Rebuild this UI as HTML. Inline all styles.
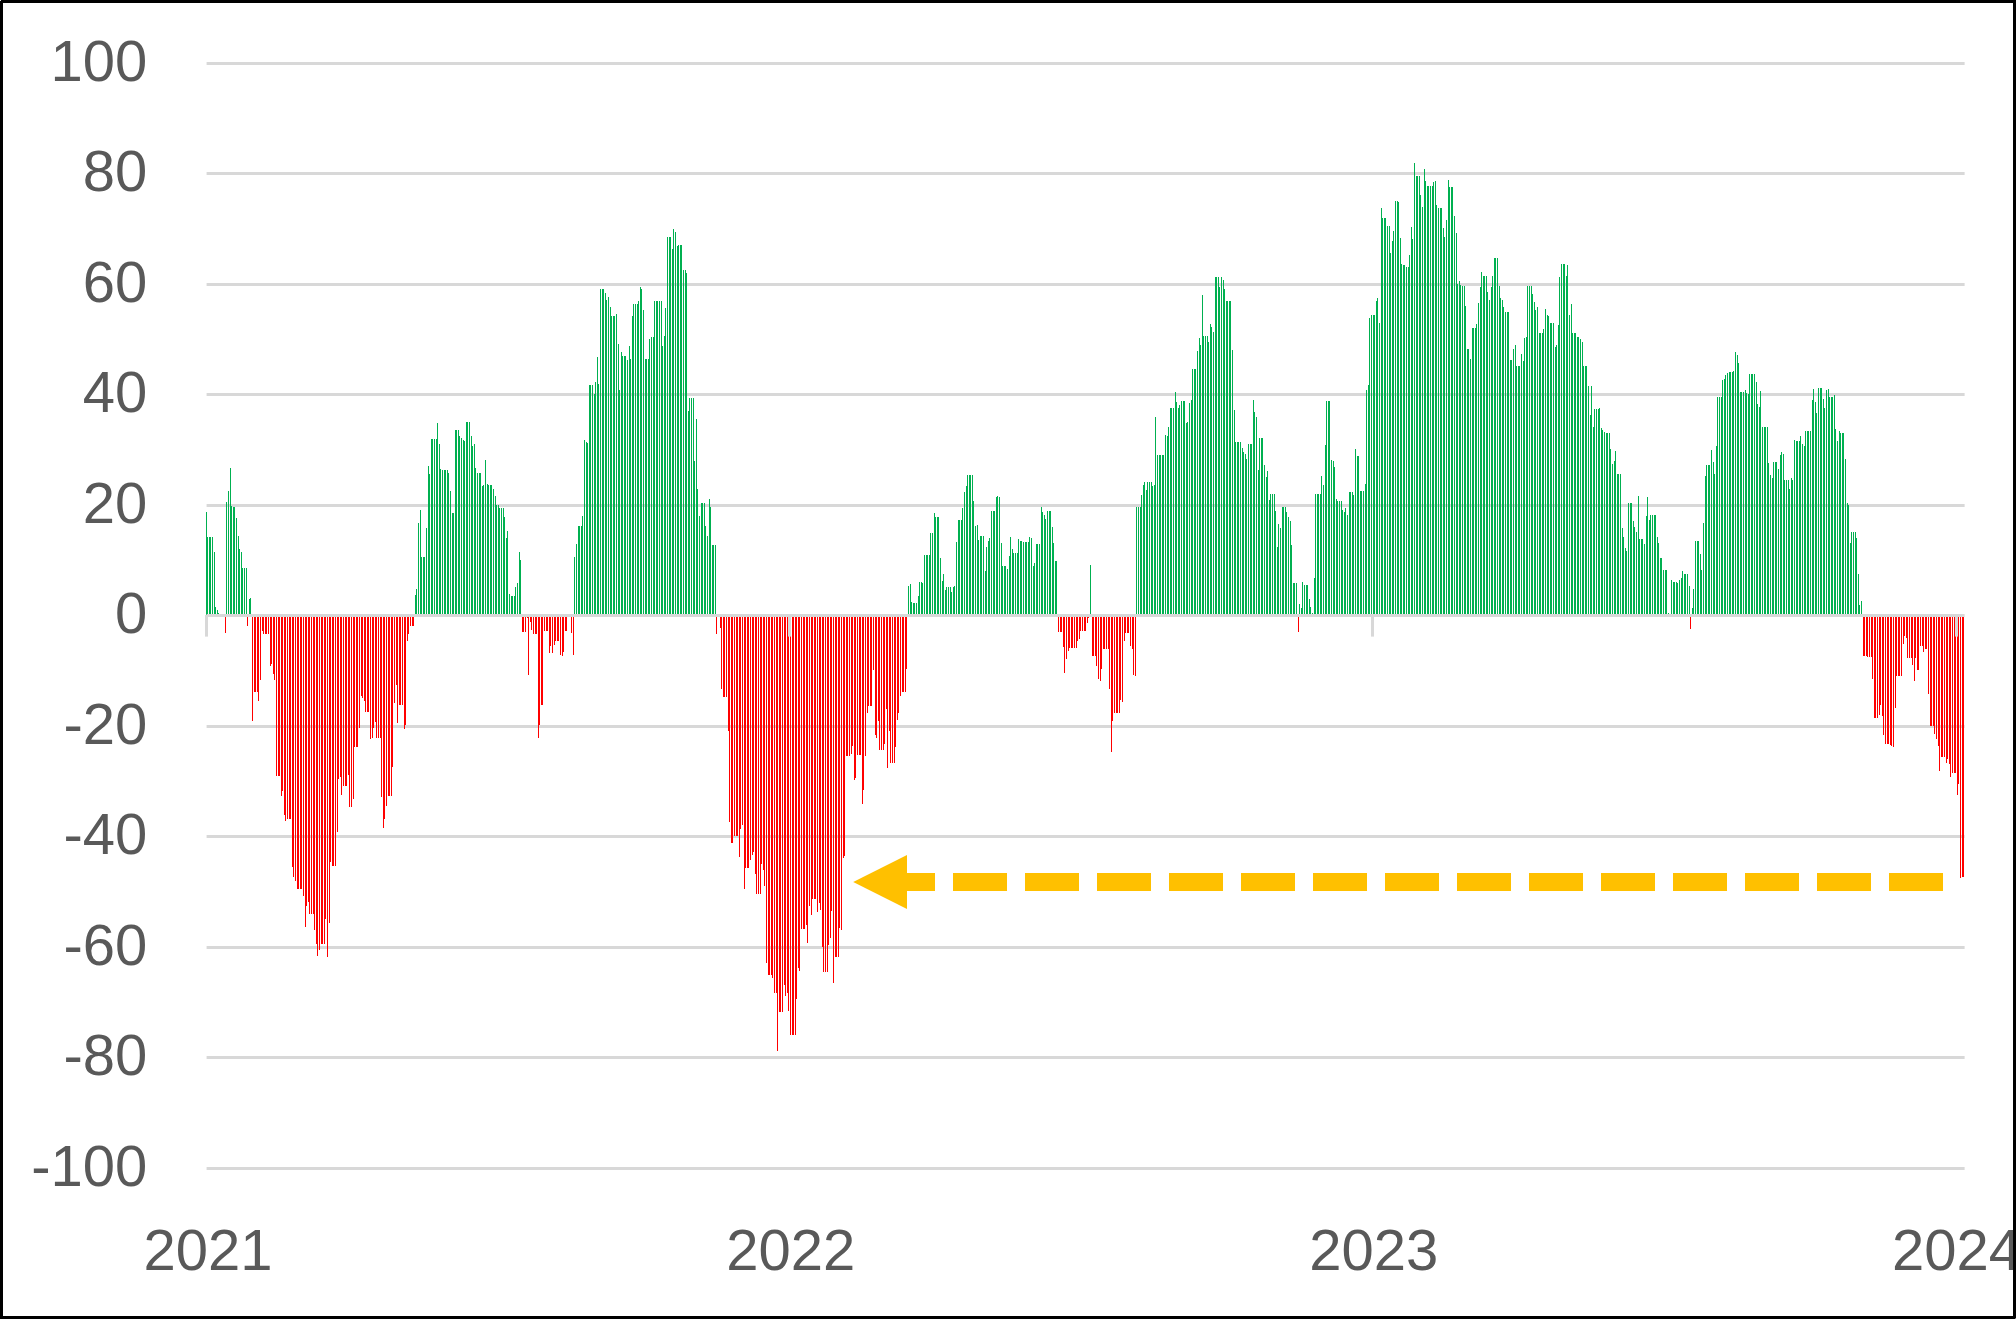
<!DOCTYPE html>
<html><head><meta charset="utf-8"><title>Chart</title>
<style>
html,body{margin:0;padding:0;background:#fff;}
body{width:2016px;height:1319px;overflow:hidden;position:relative;}
#frame{position:absolute;left:0;top:0;width:2016px;height:1319px;box-sizing:border-box;border:3px solid #000;z-index:5;pointer-events:none;}
svg{position:absolute;left:0;top:0;}
svg text{font-family:"Liberation Sans",sans-serif;font-size:58px;fill:#595959;}
</style></head><body>
<svg width="2016" height="1319" viewBox="0 0 2016 1319">
<g><rect x="206.6" y="62" width="1758" height="3" fill="#d8d8d8"/><rect x="206.6" y="172" width="1758" height="3" fill="#d8d8d8"/><rect x="206.6" y="283" width="1758" height="3" fill="#d8d8d8"/><rect x="206.6" y="393" width="1758" height="3" fill="#d8d8d8"/><rect x="206.6" y="504" width="1758" height="3" fill="#d8d8d8"/><rect x="206.6" y="725" width="1758" height="3" fill="#d8d8d8"/><rect x="206.6" y="835" width="1758" height="3" fill="#d8d8d8"/><rect x="206.6" y="946" width="1758" height="3" fill="#d8d8d8"/><rect x="206.6" y="1056" width="1758" height="3" fill="#d8d8d8"/><rect x="206.6" y="1167" width="1758" height="3" fill="#d8d8d8"/></g>
<g shape-rendering="crispEdges"><path fill="#00b050" d="M206 512h1V615h-1zM207 537h1V615h-1zM209 537h1V615h-1zM210 537h1V615h-1zM212 537h1V615h-1zM214 552h1V615h-1zM215 607h1V615h-1zM217 610h1V615h-1zM218 613h1V615h-1zM226 501.5h1V615h-1zM228 490.5h1V615h-1zM230 468h1V615h-1zM231 506h1V615h-1zM233 506.5h1V615h-1zM234 506.5h1V615h-1zM236 518h1V615h-1zM238 536h1V615h-1zM239 549h1V615h-1zM241 552h1V615h-1zM242 568h1V615h-1zM244 568h1V615h-1zM246 568h1V615h-1zM249 599h1V615h-1zM250 598h1V615h-1zM415 595h1V615h-1zM416 589h1V615h-1zM418 522.5h1V615h-1zM420 510h1V615h-1zM421 557h1V615h-1zM423 557h1V615h-1zM424 557h1V615h-1zM426 528h1V615h-1zM428 466h1V615h-1zM429 474h1V615h-1zM431 439h1V615h-1zM432 439h1V615h-1zM434 439h1V615h-1zM436 439h1V615h-1zM437 423h1V615h-1zM439 444h1V615h-1zM440 469h1V615h-1zM442 470h1V615h-1zM444 470h1V615h-1zM445 470h1V615h-1zM447 470h1V615h-1zM448 473h1V615h-1zM450 491h1V615h-1zM452 513h1V615h-1zM453 513h1V615h-1zM455 430h1V615h-1zM456 430h1V615h-1zM458 430h1V615h-1zM459 436h1V615h-1zM461 438h1V615h-1zM463 440h1V615h-1zM464 441h1V615h-1zM466 422h1V615h-1zM467 422h1V615h-1zM469 422h1V615h-1zM471 436h1V615h-1zM472 446h1V615h-1zM474 444h1V615h-1zM475 468h1V615h-1zM477 473h1V615h-1zM479 473h1V615h-1zM480 473h1V615h-1zM482 486h1V615h-1zM483 485h1V615h-1zM485 460h1V615h-1zM487 484h1V615h-1zM488 485h1V615h-1zM490 485h1V615h-1zM491 485h1V615h-1zM493 489h1V615h-1zM495 496h1V615h-1zM496 505h1V615h-1zM498 505h1V615h-1zM499 508h1V615h-1zM501 508h1V615h-1zM503 508h1V615h-1zM504 517h1V615h-1zM506 538h1V615h-1zM507 531h1V615h-1zM509 594h1V615h-1zM511 596h1V615h-1zM512 596h1V615h-1zM514 596h1V615h-1zM515 587h1V615h-1zM517 583h1V615h-1zM519 552h1V615h-1zM520 560h1V615h-1zM574 557h1V615h-1zM576 544h1V615h-1zM578 526h1V615h-1zM579 526h1V615h-1zM581 526h1V615h-1zM582 516h1V615h-1zM584 440h1V615h-1zM586 442h1V615h-1zM587 443h1V615h-1zM589 385h1V615h-1zM590 385h1V615h-1zM592 385h1V615h-1zM594 394h1V615h-1zM595 382h1V615h-1zM597 357h1V615h-1zM598 384h1V615h-1zM600 289h1V615h-1zM602 289h1V615h-1zM603 289h1V615h-1zM605 293h1V615h-1zM606 300h1V615h-1zM608 297h1V615h-1zM610 307h1V615h-1zM611 316h1V615h-1zM613 316h1V615h-1zM614 316h1V615h-1zM616 314h1V615h-1zM618 344h1V615h-1zM619 390h1V615h-1zM621 352h1V615h-1zM622 356h1V615h-1zM624 356h1V615h-1zM625 356h1V615h-1zM627 360h1V615h-1zM629 346h1V615h-1zM630 359h1V615h-1zM632 316h1V615h-1zM633 304h1V615h-1zM635 304h1V615h-1zM637 304h1V615h-1zM638 301h1V615h-1zM640 287h1V615h-1zM641 289h1V615h-1zM643 310h1V615h-1zM645 359h1V615h-1zM646 359h1V615h-1zM648 359h1V615h-1zM649 339h1V615h-1zM651 337h1V615h-1zM653 337h1V615h-1zM654 301h1V615h-1zM656 301h1V615h-1zM657 301h1V615h-1zM659 301h1V615h-1zM661 301h1V615h-1zM662 346h1V615h-1zM664 336h1V615h-1zM665 308h1V615h-1zM667 237h1V615h-1zM669 237h1V615h-1zM670 237h1V615h-1zM672 249h1V615h-1zM673 229h1V615h-1zM675 232h1V615h-1zM677 246h1V615h-1zM678 245h1V615h-1zM680 245h1V615h-1zM681 245h1V615h-1zM683 270h1V615h-1zM685 270h1V615h-1zM686 273h1V615h-1zM688 411h1V615h-1zM689 398h1V615h-1zM691 398h1V615h-1zM693 398h1V615h-1zM694 461h1V615h-1zM696 419h1V615h-1zM697 489h1V615h-1zM699 516h1V615h-1zM701 503h1V615h-1zM702 503h1V615h-1zM704 503h1V615h-1zM705 526h1V615h-1zM707 536h1V615h-1zM709 499h1V615h-1zM710 507h1V615h-1zM712 545h1V615h-1zM713 545h1V615h-1zM715 545h1V615h-1zM908 586h1V615h-1zM910 584h1V615h-1zM911 602h1V615h-1zM913 603h1V615h-1zM914 603h1V615h-1zM916 603h1V615h-1zM918 596h1V615h-1zM919 582h1V615h-1zM921 582h1V615h-1zM922 583h1V615h-1zM924 555h1V615h-1zM926 555h1V615h-1zM927 555h1V615h-1zM929 555h1V615h-1zM930 533h1V615h-1zM932 533h1V615h-1zM934 513h1V615h-1zM935 517h1V615h-1zM937 517h1V615h-1zM938 517h1V615h-1zM940 558h1V615h-1zM942 581h1V615h-1zM943 574h1V615h-1zM945 590h1V615h-1zM946 587h1V615h-1zM948 587h1V615h-1zM950 587h1V615h-1zM951 592h1V615h-1zM953 587h1V615h-1zM954 586h1V615h-1zM956 542h1V615h-1zM958 520h1V615h-1zM959 520h1V615h-1zM961 520h1V615h-1zM962 508h1V615h-1zM964 492h1V615h-1zM966 486h1V615h-1zM967 475h1V615h-1zM969 475h1V615h-1zM970 475h1V615h-1zM972 475h1V615h-1zM973 501h1V615h-1zM975 526h1V615h-1zM977 525h1V615h-1zM978 540h1V615h-1zM980 536h1V615h-1zM981 536h1V615h-1zM983 536h1V615h-1zM985 571h1V615h-1zM986 547h1V615h-1zM988 541h1V615h-1zM989 538h1V615h-1zM991 511h1V615h-1zM993 511h1V615h-1zM994 511h1V615h-1zM996 497h1V615h-1zM997 496h1V615h-1zM999 497h1V615h-1zM1001 543h1V615h-1zM1002 566h1V615h-1zM1004 566h1V615h-1zM1005 566h1V615h-1zM1007 569h1V615h-1zM1009 556h1V615h-1zM1010 537h1V615h-1zM1012 549h1V615h-1zM1013 553h1V615h-1zM1015 553h1V615h-1zM1017 553h1V615h-1zM1018 539h1V615h-1zM1020 541h1V615h-1zM1021 541h1V615h-1zM1023 542h1V615h-1zM1025 542h1V615h-1zM1026 542h1V615h-1zM1028 542h1V615h-1zM1029 537h1V615h-1zM1031 538h1V615h-1zM1033 566h1V615h-1zM1034 563h1V615h-1zM1036 544h1V615h-1zM1037 544h1V615h-1zM1039 544h1V615h-1zM1041 507h1V615h-1zM1042 512h1V615h-1zM1044 515h1V615h-1zM1045 519h1V615h-1zM1047 511h1V615h-1zM1049 511h1V615h-1zM1050 511h1V615h-1zM1052 527h1V615h-1zM1053 543h1V615h-1zM1055 561h1V615h-1zM1056 561h1V615h-1zM1090 565h1V615h-1zM1136 507h1V615h-1zM1138 507h1V615h-1zM1140 507h1V615h-1zM1141 495h1V615h-1zM1143 485h1V615h-1zM1144 482h1V615h-1zM1146 490h1V615h-1zM1147 482h1V615h-1zM1149 482h1V615h-1zM1151 482h1V615h-1zM1152 486h1V615h-1zM1154 485h1V615h-1zM1155 417h1V615h-1zM1157 455h1V615h-1zM1159 455h1V615h-1zM1160 455h1V615h-1zM1162 455h1V615h-1zM1163 455h1V615h-1zM1165 435h1V615h-1zM1167 436h1V615h-1zM1168 427h1V615h-1zM1170 408h1V615h-1zM1171 408h1V615h-1zM1173 408h1V615h-1zM1175 392h1V615h-1zM1176 402h1V615h-1zM1178 408h1V615h-1zM1179 405h1V615h-1zM1181 401h1V615h-1zM1183 401h1V615h-1zM1184 401h1V615h-1zM1186 423h1V615h-1zM1187 422h1V615h-1zM1189 403h1V615h-1zM1191 400h1V615h-1zM1192 369h1V615h-1zM1194 369h1V615h-1zM1195 369h1V615h-1zM1197 351h1V615h-1zM1199 338h1V615h-1zM1200 345h1V615h-1zM1202 295h1V615h-1zM1203 336h1V615h-1zM1205 336h1V615h-1zM1207 336h1V615h-1zM1208 342h1V615h-1zM1210 324h1V615h-1zM1211 327h1V615h-1zM1213 332h1V615h-1zM1215 277h1V615h-1zM1216 277h1V615h-1zM1218 277h1V615h-1zM1219 287h1V615h-1zM1221 277h1V615h-1zM1223 280h1V615h-1zM1224 289h1V615h-1zM1226 301h1V615h-1zM1227 301h1V615h-1zM1229 301h1V615h-1zM1230 301h1V615h-1zM1232 350h1V615h-1zM1234 410h1V615h-1zM1235 442h1V615h-1zM1237 442h1V615h-1zM1238 442h1V615h-1zM1240 442h1V615h-1zM1242 448h1V615h-1zM1243 452h1V615h-1zM1245 454h1V615h-1zM1246 459h1V615h-1zM1248 444h1V615h-1zM1250 444h1V615h-1zM1251 444h1V615h-1zM1253 400h1V615h-1zM1254 412h1V615h-1zM1256 417h1V615h-1zM1258 470h1V615h-1zM1259 438h1V615h-1zM1261 438h1V615h-1zM1262 438h1V615h-1zM1264 465h1V615h-1zM1266 477h1V615h-1zM1267 471h1V615h-1zM1269 500h1V615h-1zM1270 494h1V615h-1zM1272 494h1V615h-1zM1274 494h1V615h-1zM1275 511h1V615h-1zM1277 547h1V615h-1zM1278 524h1V615h-1zM1280 528h1V615h-1zM1282 507h1V615h-1zM1283 507h1V615h-1zM1285 507h1V615h-1zM1286 512h1V615h-1zM1288 517h1V615h-1zM1290 521h1V615h-1zM1291 545h1V615h-1zM1293 583h1V615h-1zM1294 583h1V615h-1zM1296 583h1V615h-1zM1299 604h1V615h-1zM1301 608h1V615h-1zM1302 582h1V615h-1zM1304 585h1V615h-1zM1306 585h1V615h-1zM1307 585h1V615h-1zM1309 599h1V615h-1zM1310 607h1V615h-1zM1312 613h1V615h-1zM1314 578h1V615h-1zM1315 494h1V615h-1zM1317 494h1V615h-1zM1318 494h1V615h-1zM1320 494h1V615h-1zM1321 476h1V615h-1zM1323 485h1V615h-1zM1325 445h1V615h-1zM1326 401h1V615h-1zM1328 401h1V615h-1zM1329 401h1V615h-1zM1331 460h1V615h-1zM1333 461h1V615h-1zM1334 467h1V615h-1zM1336 499h1V615h-1zM1337 501h1V615h-1zM1339 501h1V615h-1zM1341 501h1V615h-1zM1342 510h1V615h-1zM1344 512h1V615h-1zM1345 508h1V615h-1zM1347 515h1V615h-1zM1349 492h1V615h-1zM1350 492h1V615h-1zM1352 492h1V615h-1zM1353 495h1V615h-1zM1355 449h1V615h-1zM1357 456h1V615h-1zM1358 456h1V615h-1zM1360 491h1V615h-1zM1361 491h1V615h-1zM1363 491h1V615h-1zM1365 484h1V615h-1zM1366 390h1V615h-1zM1368 385h1V615h-1zM1369 318h1V615h-1zM1371 315h1V615h-1zM1373 315h1V615h-1zM1374 315h1V615h-1zM1376 301h1V615h-1zM1377 298h1V615h-1zM1379 323h1V615h-1zM1381 208h1V615h-1zM1382 218h1V615h-1zM1384 218h1V615h-1zM1385 218h1V615h-1zM1387 226h1V615h-1zM1389 226h1V615h-1zM1390 253h1V615h-1zM1392 241h1V615h-1zM1393 231h1V615h-1zM1395 201h1V615h-1zM1397 201h1V615h-1zM1398 202h1V615h-1zM1400 238h1V615h-1zM1401 264h1V615h-1zM1403 265h1V615h-1zM1404 265h1V615h-1zM1406 267h1V615h-1zM1408 267h1V615h-1zM1409 255h1V615h-1zM1411 227h1V615h-1zM1412 239h1V615h-1zM1414 163h1V615h-1zM1416 176h1V615h-1zM1417 176h1V615h-1zM1419 176h1V615h-1zM1420 195h1V615h-1zM1422 207h1V615h-1zM1424 169h1V615h-1zM1425 181h1V615h-1zM1427 186h1V615h-1zM1428 186h1V615h-1zM1430 186h1V615h-1zM1432 186h1V615h-1zM1433 182h1V615h-1zM1435 181h1V615h-1zM1436 205h1V615h-1zM1438 208h1V615h-1zM1440 208h1V615h-1zM1441 208h1V615h-1zM1443 228h1V615h-1zM1444 237h1V615h-1zM1446 220h1V615h-1zM1448 180h1V615h-1zM1449 187h1V615h-1zM1451 187h1V615h-1zM1452 187h1V615h-1zM1454 216h1V615h-1zM1456 233h1V615h-1zM1457 284h1V615h-1zM1459 281h1V615h-1zM1460 285h1V615h-1zM1462 286h1V615h-1zM1464 286h1V615h-1zM1465 306h1V615h-1zM1467 349h1V615h-1zM1468 349h1V615h-1zM1470 359h1V615h-1zM1472 328h1V615h-1zM1473 328h1V615h-1zM1475 328h1V615h-1zM1476 324h1V615h-1zM1478 303h1V615h-1zM1480 287h1V615h-1zM1481 272h1V615h-1zM1483 276h1V615h-1zM1484 276h1V615h-1zM1486 276h1V615h-1zM1487 292h1V615h-1zM1489 300h1V615h-1zM1491 287h1V615h-1zM1492 276h1V615h-1zM1494 258h1V615h-1zM1495 258h1V615h-1zM1497 258h1V615h-1zM1499 286h1V615h-1zM1500 298h1V615h-1zM1502 300h1V615h-1zM1503 307h1V615h-1zM1505 312h1V615h-1zM1507 312h1V615h-1zM1508 312h1V615h-1zM1510 360h1V615h-1zM1511 360h1V615h-1zM1513 349h1V615h-1zM1515 345h1V615h-1zM1516 366h1V615h-1zM1518 366h1V615h-1zM1519 366h1V615h-1zM1521 354h1V615h-1zM1523 361h1V615h-1zM1524 338h1V615h-1zM1526 337h1V615h-1zM1527 286h1V615h-1zM1529 286h1V615h-1zM1531 286h1V615h-1zM1532 294h1V615h-1zM1534 302h1V615h-1zM1535 310h1V615h-1zM1537 307h1V615h-1zM1539 333h1V615h-1zM1540 333h1V615h-1zM1542 333h1V615h-1zM1543 329h1V615h-1zM1545 309h1V615h-1zM1547 315h1V615h-1zM1548 316h1V615h-1zM1550 323h1V615h-1zM1551 323h1V615h-1zM1553 323h1V615h-1zM1555 347h1V615h-1zM1556 345h1V615h-1zM1558 325h1V615h-1zM1559 277h1V615h-1zM1561 264h1V615h-1zM1563 264h1V615h-1zM1564 264h1V615h-1zM1566 276h1V615h-1zM1567 265h1V615h-1zM1569 315h1V615h-1zM1571 304h1V615h-1zM1572 333h1V615h-1zM1574 333h1V615h-1zM1575 333h1V615h-1zM1577 337h1V615h-1zM1578 337h1V615h-1zM1580 339h1V615h-1zM1582 342h1V615h-1zM1583 366h1V615h-1zM1585 366h1V615h-1zM1586 366h1V615h-1zM1588 386h1V615h-1zM1590 415h1V615h-1zM1591 386h1V615h-1zM1593 427h1V615h-1zM1594 409h1V615h-1zM1596 409h1V615h-1zM1598 409h1V615h-1zM1599 408h1V615h-1zM1601 428h1V615h-1zM1602 430h1V615h-1zM1604 432h1V615h-1zM1606 433h1V615h-1zM1607 433h1V615h-1zM1609 433h1V615h-1zM1610 449h1V615h-1zM1612 464h1V615h-1zM1614 461h1V615h-1zM1615 451h1V615h-1zM1617 474h1V615h-1zM1618 474h1V615h-1zM1620 474h1V615h-1zM1622 528h1V615h-1zM1623 537h1V615h-1zM1625 548h1V615h-1zM1626 551h1V615h-1zM1628 503h1V615h-1zM1630 503h1V615h-1zM1631 503h1V615h-1zM1633 521h1V615h-1zM1634 527h1V615h-1zM1636 532h1V615h-1zM1638 496h1V615h-1zM1639 539h1V615h-1zM1641 539h1V615h-1zM1642 539h1V615h-1zM1644 544h1V615h-1zM1646 516h1V615h-1zM1647 497h1V615h-1zM1649 520h1V615h-1zM1650 515h1V615h-1zM1652 515h1V615h-1zM1654 515h1V615h-1zM1655 515h1V615h-1zM1657 537h1V615h-1zM1658 543h1V615h-1zM1660 558h1V615h-1zM1661 558h1V615h-1zM1663 570h1V615h-1zM1665 570h1V615h-1zM1666 570h1V615h-1zM1668 613h1V615h-1zM1671 580h1V615h-1zM1673 582h1V615h-1zM1674 582h1V615h-1zM1676 582h1V615h-1zM1677 583h1V615h-1zM1679 580h1V615h-1zM1681 578h1V615h-1zM1682 571h1V615h-1zM1684 574h1V615h-1zM1685 574h1V615h-1zM1687 574h1V615h-1zM1689 586h1V615h-1zM1692 608h1V615h-1zM1693 589h1V615h-1zM1695 541h1V615h-1zM1697 541h1V615h-1zM1698 541h1V615h-1zM1700 554h1V615h-1zM1701 570h1V615h-1zM1703 523h1V615h-1zM1705 476h1V615h-1zM1706 465h1V615h-1zM1708 465h1V615h-1zM1709 465h1V615h-1zM1711 450h1V615h-1zM1713 462h1V615h-1zM1714 474h1V615h-1zM1716 446h1V615h-1zM1717 397h1V615h-1zM1719 397h1V615h-1zM1721 397h1V615h-1zM1722 380h1V615h-1zM1724 379h1V615h-1zM1725 375h1V615h-1zM1727 373h1V615h-1zM1729 372h1V615h-1zM1730 372h1V615h-1zM1732 372h1V615h-1zM1733 371h1V615h-1zM1735 352h1V615h-1zM1737 355h1V615h-1zM1738 363h1V615h-1zM1740 392h1V615h-1zM1741 392h1V615h-1zM1743 392h1V615h-1zM1745 390h1V615h-1zM1746 393h1V615h-1zM1748 394h1V615h-1zM1749 374h1V615h-1zM1751 374h1V615h-1zM1752 374h1V615h-1zM1754 374h1V615h-1zM1756 382h1V615h-1zM1757 404h1V615h-1zM1759 407h1V615h-1zM1760 391h1V615h-1zM1762 427h1V615h-1zM1764 427h1V615h-1zM1765 427h1V615h-1zM1767 427h1V615h-1zM1768 463h1V615h-1zM1770 475h1V615h-1zM1772 478h1V615h-1zM1773 462h1V615h-1zM1775 462h1V615h-1zM1776 462h1V615h-1zM1778 469h1V615h-1zM1780 455h1V615h-1zM1781 452h1V615h-1zM1783 454h1V615h-1zM1784 480h1V615h-1zM1786 480h1V615h-1zM1788 480h1V615h-1zM1789 489h1V615h-1zM1791 478h1V615h-1zM1792 480h1V615h-1zM1794 440h1V615h-1zM1796 441h1V615h-1zM1797 441h1V615h-1zM1799 441h1V615h-1zM1800 436h1V615h-1zM1802 444h1V615h-1zM1804 446h1V615h-1zM1805 431h1V615h-1zM1807 431h1V615h-1zM1808 431h1V615h-1zM1810 431h1V615h-1zM1812 400h1V615h-1zM1813 389h1V615h-1zM1815 402h1V615h-1zM1816 413h1V615h-1zM1818 388h1V615h-1zM1820 388h1V615h-1zM1821 388h1V615h-1zM1823 399h1V615h-1zM1824 408h1V615h-1zM1826 390h1V615h-1zM1828 389h1V615h-1zM1829 397h1V615h-1zM1831 397h1V615h-1zM1832 397h1V615h-1zM1834 395h1V615h-1zM1835 429h1V615h-1zM1837 441h1V615h-1zM1839 431h1V615h-1zM1840 433h1V615h-1zM1842 433h1V615h-1zM1843 433h1V615h-1zM1845 459h1V615h-1zM1847 503h1V615h-1zM1848 505h1V615h-1zM1850 543h1V615h-1zM1851 532h1V615h-1zM1853 532h1V615h-1zM1855 532h1V615h-1zM1856 538h1V615h-1zM1858 574h1V615h-1zM1859 605h1V615h-1zM1861 601h1V615h-1z"/><path fill="#ff0000" d="M225 616h1V632.5h-1zM247 616h1V626h-1zM252 616h1V720.5h-1zM254 616h1V691.5h-1zM255 616h1V691.5h-1zM257 616h1V691.5h-1zM258 616h1V700.5h-1zM260 616h1V679.5h-1zM262 616h1V631h-1zM263 616h1V633.5h-1zM265 616h1V633.5h-1zM266 616h1V633.5h-1zM268 616h1V633.5h-1zM270 616h1V665.5h-1zM271 616h1V663.5h-1zM273 616h1V673.5h-1zM274 616h1V679.5h-1zM276 616h1V775.5h-1zM278 616h1V775.5h-1zM279 616h1V775.5h-1zM281 616h1V795.5h-1zM282 616h1V790.5h-1zM284 616h1V814.5h-1zM285 616h1V820.5h-1zM287 616h1V818.5h-1zM289 616h1V818.5h-1zM290 616h1V818.5h-1zM292 616h1V866.5h-1zM293 616h1V876.5h-1zM295 616h1V880.5h-1zM297 616h1V888.5h-1zM298 616h1V888.5h-1zM300 616h1V888.5h-1zM301 616h1V888.5h-1zM303 616h1V896h-1zM305 616h1V927h-1zM306 616h1V905.5h-1zM308 616h1V902h-1zM309 616h1V914h-1zM311 616h1V914h-1zM313 616h1V914h-1zM314 616h1V930h-1zM316 616h1V944h-1zM317 616h1V956h-1zM319 616h1V950h-1zM321 616h1V944h-1zM322 616h1V944h-1zM324 616h1V944h-1zM325 616h1V919h-1zM327 616h1V957h-1zM329 616h1V923h-1zM330 616h1V861.5h-1zM332 616h1V865.5h-1zM333 616h1V865.5h-1zM335 616h1V865.5h-1zM337 616h1V831.5h-1zM338 616h1V779h-1zM340 616h1V777h-1zM341 616h1V794.5h-1zM343 616h1V785.5h-1zM345 616h1V785.5h-1zM346 616h1V785.5h-1zM348 616h1V775h-1zM349 616h1V806.5h-1zM351 616h1V806.5h-1zM353 616h1V798.5h-1zM354 616h1V747h-1zM356 616h1V747h-1zM357 616h1V747h-1zM359 616h1V727.5h-1zM361 616h1V696h-1zM362 616h1V697.5h-1zM364 616h1V701h-1zM365 616h1V711.5h-1zM367 616h1V711.5h-1zM368 616h1V711.5h-1zM370 616h1V738.5h-1zM372 616h1V737.5h-1zM373 616h1V728h-1zM375 616h1V722h-1zM376 616h1V737.5h-1zM378 616h1V737.5h-1zM380 616h1V738h-1zM381 616h1V796.5h-1zM383 616h1V827.5h-1zM384 616h1V818.5h-1zM386 616h1V805.5h-1zM388 616h1V795.5h-1zM389 616h1V795.5h-1zM391 616h1V795.5h-1zM392 616h1V766.5h-1zM394 616h1V703h-1zM396 616h1V685h-1zM397 616h1V722.5h-1zM399 616h1V705h-1zM400 616h1V705h-1zM402 616h1V705h-1zM404 616h1V728.5h-1zM405 616h1V724.5h-1zM407 616h1V640.5h-1zM408 616h1V633.5h-1zM410 616h1V626h-1zM412 616h1V626h-1zM413 616h1V626h-1zM522 616h1V631.5h-1zM523 616h1V631.5h-1zM525 616h1V631.5h-1zM527 616h1V617.5h-1zM528 616h1V674.5h-1zM530 616h1V621.5h-1zM531 616h1V629.5h-1zM533 616h1V633.5h-1zM535 616h1V633.5h-1zM536 616h1V633.5h-1zM538 616h1V737.5h-1zM539 616h1V724.5h-1zM541 616h1V704.5h-1zM542 616h1V704.5h-1zM544 616h1V630.5h-1zM546 616h1V630.5h-1zM547 616h1V630.5h-1zM549 616h1V652.5h-1zM550 616h1V645.5h-1zM552 616h1V652.5h-1zM554 616h1V644.5h-1zM555 616h1V640.5h-1zM557 616h1V640.5h-1zM558 616h1V640.5h-1zM560 616h1V654.5h-1zM562 616h1V655.5h-1zM563 616h1V651.5h-1zM565 616h1V630.5h-1zM566 616h1V630.5h-1zM571 616h1V632.5h-1zM573 616h1V654.5h-1zM716 616h1V633.5h-1zM720 616h1V627.5h-1zM721 616h1V688.5h-1zM723 616h1V696.5h-1zM724 616h1V696.5h-1zM726 616h1V696.5h-1zM728 616h1V730.5h-1zM729 616h1V821.5h-1zM731 616h1V842.5h-1zM732 616h1V842.5h-1zM734 616h1V836h-1zM736 616h1V836h-1zM737 616h1V836h-1zM739 616h1V856.5h-1zM740 616h1V828.5h-1zM742 616h1V824.5h-1zM744 616h1V888.5h-1zM745 616h1V867.5h-1zM747 616h1V867.5h-1zM748 616h1V867.5h-1zM750 616h1V859.5h-1zM752 616h1V854.5h-1zM753 616h1V851.5h-1zM755 616h1V873.5h-1zM756 616h1V893.5h-1zM758 616h1V893.5h-1zM760 616h1V893.5h-1zM761 616h1V863.5h-1zM763 616h1V869.5h-1zM764 616h1V885.5h-1zM766 616h1V962.5h-1zM768 616h1V974.5h-1zM769 616h1V974.5h-1zM771 616h1V974.5h-1zM772 616h1V977.5h-1zM774 616h1V992.5h-1zM776 616h1V992.5h-1zM777 616h1V1050.5h-1zM779 616h1V1011.5h-1zM780 616h1V1011.5h-1zM782 616h1V1011.5h-1zM784 616h1V984.5h-1zM785 616h1V995.5h-1zM787 616h1V992.5h-1zM788 616h1V1010.5h-1zM790 616h1V1034.5h-1zM792 616h1V1034.5h-1zM793 616h1V1034.5h-1zM795 616h1V1034.5h-1zM796 616h1V998.5h-1zM798 616h1V967.5h-1zM799 616h1V970.5h-1zM801 616h1V928.5h-1zM803 616h1V928.5h-1zM804 616h1V928.5h-1zM806 616h1V924.5h-1zM807 616h1V942.5h-1zM809 616h1V905.5h-1zM811 616h1V914.5h-1zM812 616h1V898.5h-1zM814 616h1V898.5h-1zM815 616h1V898.5h-1zM817 616h1V911.5h-1zM819 616h1V902.5h-1zM820 616h1V909.5h-1zM822 616h1V946.5h-1zM823 616h1V971.5h-1zM825 616h1V971.5h-1zM827 616h1V971.5h-1zM828 616h1V944.5h-1zM830 616h1V937.5h-1zM831 616h1V910.5h-1zM833 616h1V982.5h-1zM835 616h1V956.5h-1zM836 616h1V956.5h-1zM838 616h1V956.5h-1zM839 616h1V927.5h-1zM841 616h1V929.5h-1zM843 616h1V857.5h-1zM844 616h1V855.5h-1zM846 616h1V755.5h-1zM847 616h1V755.5h-1zM849 616h1V755.5h-1zM851 616h1V753.5h-1zM852 616h1V745.5h-1zM854 616h1V779.5h-1zM855 616h1V777.5h-1zM857 616h1V754.5h-1zM859 616h1V754.5h-1zM860 616h1V754.5h-1zM862 616h1V803.5h-1zM863 616h1V789.5h-1zM865 616h1V755.5h-1zM867 616h1V712.5h-1zM868 616h1V705.5h-1zM870 616h1V705.5h-1zM871 616h1V705.5h-1zM873 616h1V669.5h-1zM875 616h1V734.5h-1zM876 616h1V737.5h-1zM878 616h1V720.5h-1zM879 616h1V749.5h-1zM881 616h1V749.5h-1zM883 616h1V749.5h-1zM884 616h1V743.5h-1zM886 616h1V708.5h-1zM887 616h1V767.5h-1zM889 616h1V730.5h-1zM890 616h1V762.5h-1zM892 616h1V762.5h-1zM894 616h1V762.5h-1zM895 616h1V746.5h-1zM897 616h1V719.5h-1zM898 616h1V712.5h-1zM900 616h1V695.5h-1zM902 616h1V691.5h-1zM903 616h1V691.5h-1zM905 616h1V691.5h-1zM906 616h1V668.5h-1zM1058 616h1V631.5h-1zM1060 616h1V631.5h-1zM1061 616h1V631.5h-1zM1063 616h1V646.5h-1zM1064 616h1V672.5h-1zM1066 616h1V658.5h-1zM1068 616h1V650.5h-1zM1069 616h1V647.5h-1zM1071 616h1V647.5h-1zM1072 616h1V647.5h-1zM1074 616h1V647.5h-1zM1076 616h1V647.5h-1zM1077 616h1V640.5h-1zM1079 616h1V638.5h-1zM1080 616h1V630.5h-1zM1082 616h1V630.5h-1zM1084 616h1V630.5h-1zM1085 616h1V630.5h-1zM1087 616h1V622.5h-1zM1088 616h1V617.5h-1zM1092 616h1V655.5h-1zM1093 616h1V655.5h-1zM1095 616h1V655.5h-1zM1096 616h1V665.5h-1zM1098 616h1V678.5h-1zM1100 616h1V680.5h-1zM1101 616h1V668.5h-1zM1103 616h1V648.5h-1zM1104 616h1V648.5h-1zM1106 616h1V648.5h-1zM1108 616h1V648.5h-1zM1109 616h1V688.5h-1zM1111 616h1V751.5h-1zM1112 616h1V720.5h-1zM1114 616h1V712.5h-1zM1116 616h1V712.5h-1zM1117 616h1V712.5h-1zM1119 616h1V712.5h-1zM1120 616h1V699.5h-1zM1122 616h1V701.5h-1zM1124 616h1V640.5h-1zM1125 616h1V632.5h-1zM1127 616h1V632.5h-1zM1128 616h1V632.5h-1zM1130 616h1V645.5h-1zM1132 616h1V648.5h-1zM1133 616h1V674.5h-1zM1135 616h1V675.5h-1zM1298 616h1V632h-1zM1690 616h1V628.5h-1zM1863 616h1V655.5h-1zM1864 616h1V655.5h-1zM1866 616h1V655.5h-1zM1867 616h1V656.5h-1zM1869 616h1V656.5h-1zM1871 616h1V656.5h-1zM1872 616h1V678.5h-1zM1874 616h1V717.5h-1zM1875 616h1V717.5h-1zM1877 616h1V717.5h-1zM1879 616h1V714.5h-1zM1880 616h1V704.5h-1zM1882 616h1V715.5h-1zM1883 616h1V734.5h-1zM1885 616h1V743.5h-1zM1887 616h1V743.5h-1zM1888 616h1V743.5h-1zM1890 616h1V744.5h-1zM1891 616h1V745.5h-1zM1893 616h1V746.5h-1zM1895 616h1V707.5h-1zM1896 616h1V676h-1zM1898 616h1V676h-1zM1899 616h1V676h-1zM1901 616h1V676h-1zM1903 616h1V643.5h-1zM1904 616h1V635.5h-1zM1906 616h1V637.5h-1zM1907 616h1V657.5h-1zM1909 616h1V657.5h-1zM1911 616h1V657.5h-1zM1912 616h1V664.5h-1zM1914 616h1V680.5h-1zM1915 616h1V657.5h-1zM1917 616h1V669.5h-1zM1918 616h1V669.5h-1zM1920 616h1V645.5h-1zM1922 616h1V645.5h-1zM1923 616h1V651.5h-1zM1925 616h1V648.5h-1zM1926 616h1V648.5h-1zM1928 616h1V693.5h-1zM1930 616h1V725.5h-1zM1931 616h1V725.5h-1zM1933 616h1V725.5h-1zM1934 616h1V733.5h-1zM1936 616h1V738.5h-1zM1938 616h1V745.5h-1zM1939 616h1V770.5h-1zM1941 616h1V756.5h-1zM1942 616h1V756.5h-1zM1944 616h1V756.5h-1zM1946 616h1V762.5h-1zM1947 616h1V758.5h-1zM1949 616h1V763.5h-1zM1950 616h1V776.5h-1zM1952 616h1V772.5h-1zM1954 616h1V772.5h-1zM1955 616h1V772.5h-1zM1957 616h1V794.5h-1zM1958 616h1V783.5h-1zM1960 616h1V877.5h-1zM1962 616h1V876.5h-1zM1963 616h1V876.5h-1z"/></g>
<rect x="206.6" y="614" width="1758" height="3" fill="#d8d8d8"/>
<g><rect x="205" y="615" width="3" height="21.6" fill="#d8d8d8"/><rect x="788" y="615" width="3" height="21.6" fill="#d8d8d8"/><rect x="1371" y="615" width="3" height="21.6" fill="#d8d8d8"/><rect x="1955" y="615" width="3" height="21.6" fill="#d8d8d8"/></g>
<g><rect x="1889.0" y="873" width="54" height="18" fill="#ffc000"/><rect x="1817.0" y="873" width="54" height="18" fill="#ffc000"/><rect x="1745.0" y="873" width="54" height="18" fill="#ffc000"/><rect x="1673.0" y="873" width="54" height="18" fill="#ffc000"/><rect x="1601.0" y="873" width="54" height="18" fill="#ffc000"/><rect x="1529.0" y="873" width="54" height="18" fill="#ffc000"/><rect x="1457.0" y="873" width="54" height="18" fill="#ffc000"/><rect x="1385.0" y="873" width="54" height="18" fill="#ffc000"/><rect x="1313.0" y="873" width="54" height="18" fill="#ffc000"/><rect x="1241.0" y="873" width="54" height="18" fill="#ffc000"/><rect x="1169.0" y="873" width="54" height="18" fill="#ffc000"/><rect x="1097.0" y="873" width="54" height="18" fill="#ffc000"/><rect x="1025.0" y="873" width="54" height="18" fill="#ffc000"/><rect x="953.0" y="873" width="54" height="18" fill="#ffc000"/><rect x="906" y="873" width="29.0" height="18" fill="#ffc000"/><polygon points="853.2,882 907,855 907,909" fill="#ffc000"/></g>
<g><text x="147.3" y="81.3" text-anchor="end">100</text><text x="147.3" y="191.3" text-anchor="end">80</text><text x="147.3" y="302.3" text-anchor="end">60</text><text x="147.3" y="412.3" text-anchor="end">40</text><text x="147.3" y="523.3" text-anchor="end">20</text><text x="147.3" y="633.3" text-anchor="end">0</text><text x="147.3" y="744.3" text-anchor="end">-20</text><text x="147.3" y="854.3" text-anchor="end">-40</text><text x="147.3" y="965.3" text-anchor="end">-60</text><text x="147.3" y="1075.3" text-anchor="end">-80</text><text x="147.3" y="1186.3" text-anchor="end">-100</text></g>
<g><text x="207.9" y="1270.3" text-anchor="middle">2021</text><text x="790.8" y="1270.3" text-anchor="middle">2022</text><text x="1373.7" y="1270.3" text-anchor="middle">2023</text><text x="1956.6" y="1270.3" text-anchor="middle">2024</text></g>
</svg>
<div id="frame"></div>
<div style="position:absolute;left:0;top:0;width:1px;height:1px;background:#e6e6e6;z-index:6"></div><div style="position:absolute;left:2015px;top:1318px;width:1px;height:1px;background:#808080;z-index:6"></div>
</body></html>
